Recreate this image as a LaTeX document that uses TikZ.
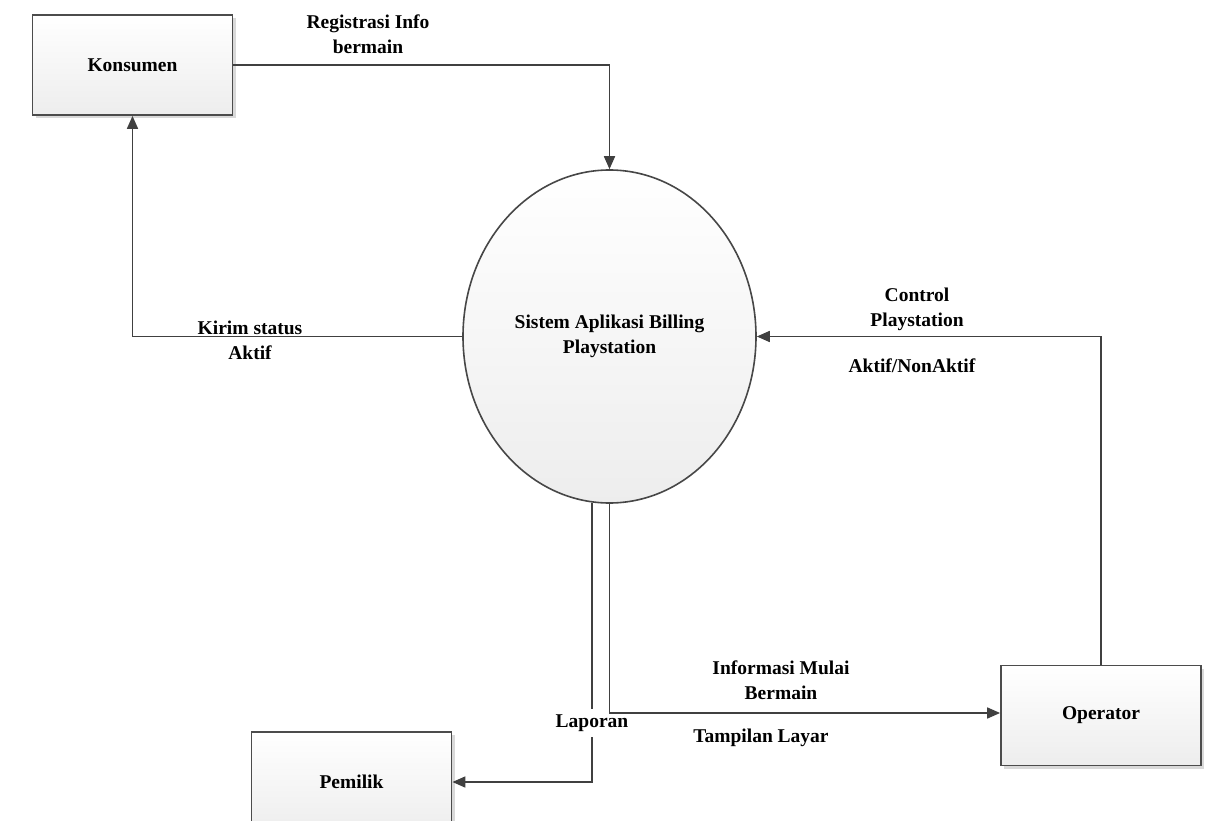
\documentclass[tikz,border=0pt]{standalone}
\usepackage{fontspec}
\setmainfont{Liberation Serif}
\usetikzlibrary{arrows.meta,shadows,calc,shapes.geometric}
\begin{document}
\begin{tikzpicture}[x=1pt,y=-1pt,
  txt/.style={font=\fontsize{19.5}{25}\selectfont\bfseries, text=black, align=center, inner sep=2pt},
  entity/.style={txt, draw=black!70, line width=1.8pt, minimum width=200pt, minimum height=100pt,
    top color=white, bottom color=black!7,
    drop shadow={shadow xshift=3pt, shadow yshift=-3pt, fill=black!15, opacity=1}},
  proc/.style={txt, draw=black!72, line width=1.6pt, ellipse, minimum width=293pt, minimum height=333pt,
    top color=white, bottom color=black!7, inner sep=0pt},
  flow/.style={draw=black!75, line width=1.7pt, -{Triangle[length=13pt,width=11pt]}},
  lbl/.style={txt}
]
\useasboundingbox (0,0) rectangle (1224,821);
\clip (0,0) rectangle (1224,821);
\fill[white] (0,0) rectangle (1224,821);

\node[entity] (kons) at (132.5,65) {Konsumen};
\node[proc] (sys) at (609.5,336.5) {Sistem Aplikasi Billing\\Playstation};
\node[entity] (op) at (1101,715.5) {Operator};
\node[entity] (pem) at (351.5,782) {Pemilik};

% left flow to Pemilik, with its label cutting the line
\draw[flow] ($(sys.south)+(-17.5,-1)$) |- (pem.east);
\node[lbl, fill=white, inner xsep=1pt, inner ysep=6pt] (l7) at (592,723) {Laporan};

% other flows
\draw[flow] (kons.east) -| (sys.north);
\draw[flow] (sys.west) -| (kons.south);
\draw[flow] (op.north) |- (sys.east);
\draw[flow] (sys.south) |- ($(op.west)+(0,-2.5)$);

% labels
\node[lbl] (l1) at (368,34.5) {Registrasi Info\\bermain};
\node[lbl] (l2) at (250,340.5) {Kirim status\\Aktif};
\node[lbl] (l3) at (917,309) {Control\\Playstation};
\node[lbl] (l4) at (912,366) {Aktif/NonAktif};
\node[lbl] (l5) at (781,680.5) {Informasi Mulai\\Bermain};
\node[lbl] (l6) at (761,738) {Tampilan Layar};
\end{tikzpicture}
\end{document}
